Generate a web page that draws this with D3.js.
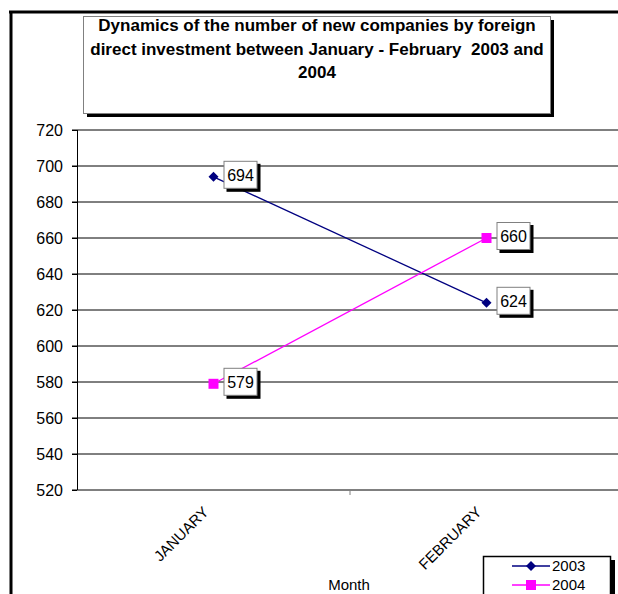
<!DOCTYPE html>
<html>
<head>
<meta charset="utf-8">
<script src="https://cdn.jsdelivr.net/npm/d3@7"></script>
<style>
  body { margin: 0; background: #fff; }
  svg { font-family: "Liberation Sans", Arial, sans-serif; }
  text { white-space: pre; }
</style>
</head>
<body>
<svg id="canvas" width="618" height="594"></svg>
<script>
const months = ["JANUARY", "FEBRUARY"];
const series2003 = [694, 624];
const series2004 = [579, 660];
const yTicks = [520, 540, 560, 580, 600, 620, 640, 660, 680, 700, 720];
const titleLines = [
  "Dynamics of the number of new companies by foreign",
  "direct investment between January - February  2003 and",
  "2004"
];

const svg = d3.select("#canvas");

const x = d3.scaleBand().domain(months).range([77, 623]);
const y = d3.scaleLinear().domain([520, 720]).range([490, 130]);

// outer frame
svg.append("line").attr("x1", 9).attr("y1", 12).attr("x2", 618).attr("y2", 12)
  .style("stroke", "#000").style("stroke-width", 3);
svg.append("line").attr("x1", 11).attr("y1", 11).attr("x2", 11).attr("y2", 594)
  .style("stroke", "#000").style("stroke-width", 3);

// title box
svg.append("rect").attr("x", 87).attr("y", 20).attr("width", 467).attr("height", 97)
  .style("fill", "#000");
svg.append("rect").attr("x", 83.5).attr("y", 16.5).attr("width", 467).attr("height", 97)
  .style("fill", "#fff").style("stroke", "#808080");
svg.append("g").selectAll("text").data(titleLines).join("text")
  .attr("x", 317).attr("y", (d, i) => 31 + i * 23.5)
  .attr("text-anchor", "middle")
  .style("font-weight", "bold").style("font-size", "17px")
  .text(d => d);

// gridlines
svg.append("g").selectAll("line").data(yTicks).join("line")
  .attr("x1", 72).attr("x2", 623)
  .attr("y1", d => y(d)).attr("y2", d => y(d))
  .style("stroke", "#000").style("stroke-width", 1);

// y axis
const yAxis = svg.append("g").attr("transform", "translate(77,0)")
  .call(d3.axisLeft(y).tickValues(yTicks).tickSize(5).tickPadding(9));
yAxis.select(".domain").attr("d", `M0.5,${y(720)}V${y(520)}`).style("stroke", "#000");
yAxis.selectAll(".tick line").style("stroke", "#000");
yAxis.selectAll("text").style("font-size", "16px").style("fill", "#000")
  .style("font-family", "Liberation Sans, Arial, sans-serif");

// x axis tick between categories
svg.append("line").attr("x1", 350).attr("x2", 350).attr("y1", 490).attr("y2", 495)
  .style("stroke", "#808080");

svg.append("g").selectAll("text").data(months).join("text")
  .attr("transform", d => `translate(${x(d) + x.bandwidth() / 2 - 4},${513}) rotate(-45)`)
  .attr("text-anchor", "end")
  .style("font-size", "15px")
  .text(d => d);

svg.append("text").attr("x", 349).attr("y", 590).attr("text-anchor", "middle")
  .style("font-size", "15px").text("Month");

// lines
const cx = d => x(d) + x.bandwidth() / 2;
const lineGen = d3.line().x(d => cx(d[0])).y(d => y(d[1]));
const s03 = months.map((m, i) => [m, series2003[i]]);
const s04 = months.map((m, i) => [m, series2004[i]]);

svg.append("path").attr("d", lineGen(s03))
  .style("fill", "none").style("stroke", "#000080").style("stroke-width", 1.3);
svg.append("path").attr("d", lineGen(s04))
  .style("fill", "none").style("stroke", "#ff00ff").style("stroke-width", 1.3);

const diamond = "M0,-5L5,0L0,5L-5,0Z";
svg.append("g").selectAll("path").data(s03).join("path")
  .attr("transform", d => `translate(${cx(d[0])},${y(d[1])})`)
  .attr("d", diamond).style("fill", "#000080");
svg.append("g").selectAll("rect").data(s04).join("rect")
  .attr("x", d => cx(d[0]) - 5).attr("y", d => y(d[1]) - 5)
  .attr("width", 10).attr("height", 10).style("fill", "#ff00ff");

// data labels
const labels = s03.concat(s04);
const lg = svg.append("g").selectAll("g").data(labels).join("g")
  .attr("transform", d => `translate(${cx(d[0]) + 10},${y(d[1]) - 16})`);
lg.append("rect").attr("x", 3).attr("y", 3).attr("width", 34).attr("height", 28)
  .style("fill", "#000");
lg.append("rect").attr("x", 0.5).attr("y", 0.5).attr("width", 33).attr("height", 27)
  .style("fill", "#fff").style("stroke", "#808080");
lg.append("text").attr("x", 17).attr("y", 20).attr("text-anchor", "middle")
  .style("font-size", "16px").text(d => d[1]);

// legend
const legend = svg.append("g");
legend.append("rect").attr("x", 487).attr("y", 560).attr("width", 128).attr("height", 60)
  .style("fill", "#000");
legend.append("rect").attr("x", 483.5).attr("y", 556.5).attr("width", 127).attr("height", 60)
  .style("fill", "#fff").style("stroke", "#000").style("stroke-width", 1.5);
const legendItems = [
  { name: "2003", color: "#000080", type: "diamond" },
  { name: "2004", color: "#ff00ff", type: "square" }
];
const li = legend.selectAll("g").data(legendItems).join("g")
  .attr("transform", (d, i) => `translate(0,${566 + i * 19})`);
li.append("line").attr("x1", 512).attr("x2", 550)
  .style("stroke", d => d.color).style("stroke-width", 1.3);
li.each(function (d) {
  const g = d3.select(this);
  if (d.type === "diamond") {
    g.append("path").attr("transform", "translate(531,0)").attr("d", diamond).style("fill", d.color);
  } else {
    g.append("rect").attr("x", 526).attr("y", -5).attr("width", 10).attr("height", 10).style("fill", d.color);
  }
});
li.append("text").attr("x", 552).attr("y", 5).style("font-size", "15px").text(d => d.name);
</script>
</body>
</html>
